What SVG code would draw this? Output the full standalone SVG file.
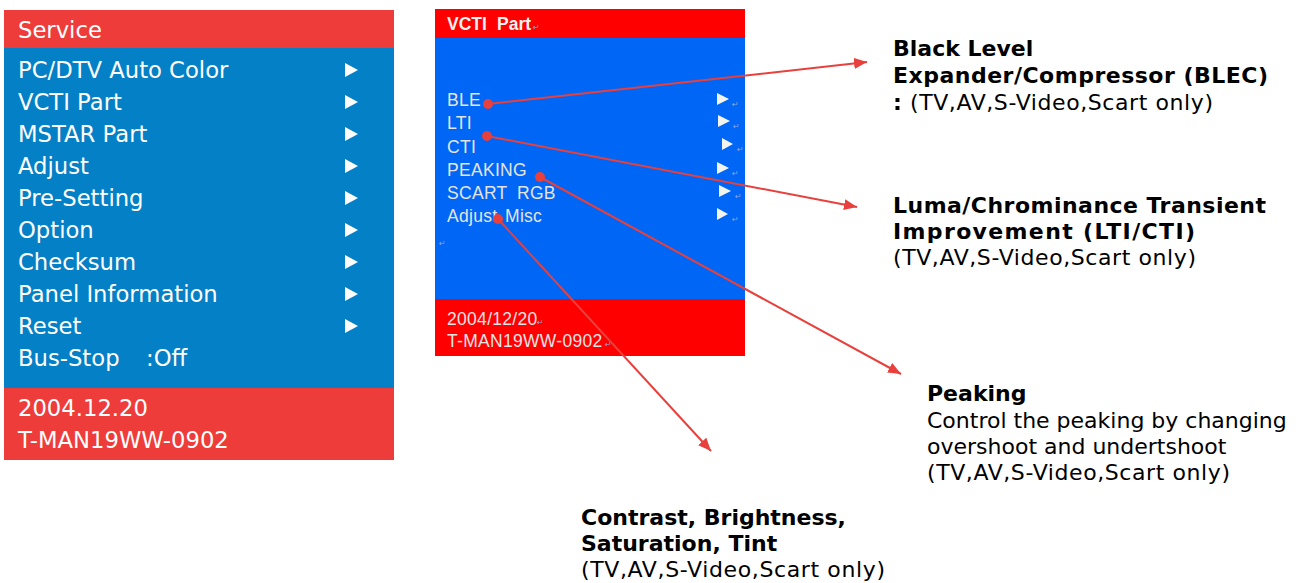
<svg xmlns="http://www.w3.org/2000/svg" width="1304" height="583" viewBox="0 0 1304 583">
<defs>
<style>
.menu{font-family:"DejaVu Sans",Verdana,sans-serif;font-size:22.7px;fill:#ffffff}
.osd{font-family:"Liberation Sans",Arial,sans-serif;font-size:17.5px;letter-spacing:0.3px;fill:#e4e4e4}
.osdb{font-family:"Liberation Sans",Arial,sans-serif;font-size:17.5px;font-weight:bold;fill:#f2f2f2}
.pm{font-family:"DejaVu Sans",sans-serif;font-size:8px;fill:#8fa6d8}
.tri{fill:#ffffff}
.tri2{fill:#f4f4ee}
.lb{font-family:"DejaVu Sans",Verdana,sans-serif;font-size:22px;font-weight:bold;fill:#000000}
.ln{font-family:"DejaVu Sans",Verdana,sans-serif;font-size:22px;fill:#000000}
.conn{stroke:#e8403c;stroke-width:2;fill:none}
.dot{fill:#e8403c}
</style>
<marker id="arr" markerUnits="userSpaceOnUse" markerWidth="14" markerHeight="12" refX="13" refY="5.5" orient="auto">
<path d="M0,0 L13,5.5 L0,11 Z" fill="#e8403c"/>
</marker>
</defs>
<rect width="1304" height="583" fill="#ffffff"/>

<g id="service-menu">
<rect x="4" y="10" width="390" height="38" fill="#ee3c3b"/>
<rect x="4" y="48" width="390" height="340" fill="#0480c6"/>
<rect x="4" y="388" width="390" height="72" fill="#ee3c3b"/>
<text class="menu" x="18" y="38">Service</text>
<text class="menu" x="18" y="78">PC/DTV Auto Color</text>
<text class="menu" x="18" y="110">VCTI Part</text>
<text class="menu" x="18" y="142">MSTAR Part</text>
<text class="menu" x="18" y="174">Adjust</text>
<text class="menu" x="18" y="206">Pre-Setting</text>
<text class="menu" x="18" y="238">Option</text>
<text class="menu" x="18" y="270">Checksum</text>
<text class="menu" x="18" y="302">Panel Information</text>
<text class="menu" x="18" y="334">Reset</text>
<text class="menu" x="18" y="366">Bus-Stop<tspan x="146">:Off</tspan></text>
<text class="menu" x="18" y="416">2004.12.20</text>
<text class="menu" x="18" y="448">T-MAN19WW-0902</text>
<polygon class="tri" points="345,63 358,70 345,77"/>
<polygon class="tri" points="345,95 358,102 345,109"/>
<polygon class="tri" points="345,127 358,134 345,141"/>
<polygon class="tri" points="345,159 358,166 345,173"/>
<polygon class="tri" points="345,191 358,198 345,205"/>
<polygon class="tri" points="345,223 358,230 345,237"/>
<polygon class="tri" points="345,255 358,262 345,269"/>
<polygon class="tri" points="345,287 358,294 345,301"/>
<polygon class="tri" points="345,319 358,326 345,333"/>
</g>

<g id="vcti-screen">
<rect x="435" y="9" width="310" height="29" fill="#ff0000"/>
<rect x="435" y="38" width="310" height="261" fill="#0066f6"/>
<rect x="435" y="299" width="310" height="57" fill="#ff0000"/>
<text class="osdb" x="447" y="30">VCTI<tspan x="497">Part</tspan></text>
<text class="pm" x="533" y="30">↵</text>
<text class="osd" x="447" y="106">BLE</text>
<text class="osd" x="447" y="129">LTI</text>
<text class="osd" x="447" y="153">CTI</text>
<text class="osd" x="447" y="176">PEAKING</text>
<text class="osd" x="447" y="199">SCART<tspan x="517">RGB</tspan></text>
<text class="osd" x="447" y="222">Adjust<tspan x="505">Misc</tspan></text>
<text class="pm" x="439" y="246">↵</text>
<polygon class="tri2" points="717,93 729,99 717,105"/>
<polygon class="tri2" points="718,115 730,121 718,127"/>
<polygon class="tri2" points="722,138 733,144 722,150"/>
<polygon class="tri2" points="717,162 729,168 717,174"/>
<polygon class="tri2" points="719,185 731,191 719,197"/>
<polygon class="tri2" points="717,208 728,214 717,220"/>
<text class="pm" x="732" y="107">↵</text>
<text class="pm" x="733" y="129">↵</text>
<text class="pm" x="737" y="152">↵</text>
<text class="pm" x="732" y="176">↵</text>
<text class="pm" x="735" y="199">↵</text>
<text class="pm" x="732" y="222">↵</text>
<text class="osd" x="447" y="325">2004/12/20</text>
<text class="pm" x="537" y="325">↵</text>
<text class="osd" x="447" y="347">T-MAN19WW-0902</text>
<text class="pm" x="605" y="347">↵</text>
</g>

<g id="label-blec">
<text class="lb" x="893" y="56">Black Level</text>
<text class="lb" x="893" y="83" textLength="375" lengthAdjust="spacing">Expander/Compressor (BLEC)</text>
<text class="lb" x="893" y="110">:</text>
<text class="ln" x="910" y="110" textLength="303" lengthAdjust="spacing">(TV,AV,S-Video,Scart only)</text>
</g>

<g id="label-lti-cti">
<text class="lb" x="893" y="213" textLength="373" lengthAdjust="spacing">Luma/Chrominance Transient</text>
<text class="lb" x="893" y="239" textLength="302" lengthAdjust="spacing">Improvement (LTI/CTI)</text>
<text class="ln" x="893" y="265" textLength="303" lengthAdjust="spacing">(TV,AV,S-Video,Scart only)</text>
</g>

<g id="label-peaking">
<text class="lb" x="927" y="401">Peaking</text>
<text class="ln" x="927" y="428">Control the peaking by changing</text>
<text class="ln" x="927" y="454">overshoot and undertshoot</text>
<text class="ln" x="927" y="480" textLength="303" lengthAdjust="spacing">(TV,AV,S-Video,Scart only)</text>
</g>

<g id="label-adjust-misc">
<text class="lb" x="581" y="525">Contrast, Brightness,</text>
<text class="lb" x="581" y="551">Saturation, Tint</text>
<text class="ln" x="581" y="577" textLength="304" lengthAdjust="spacing">(TV,AV,S-Video,Scart only)</text>
</g>

<g id="connectors">
<line class="conn" x1="488" y1="104" x2="867" y2="62" marker-end="url(#arr)"/>
<line class="conn" x1="487" y1="136" x2="857" y2="207" marker-end="url(#arr)"/>
<line class="conn" x1="540" y1="177" x2="901" y2="374" marker-end="url(#arr)"/>
<line class="conn" x1="498" y1="219" x2="711" y2="451" marker-end="url(#arr)"/>
<circle class="dot" cx="488" cy="104" r="5"/>
<circle class="dot" cx="487" cy="136" r="5"/>
<circle class="dot" cx="540" cy="177" r="5"/>
<circle class="dot" cx="498" cy="219" r="5"/>
</g>
</svg>
